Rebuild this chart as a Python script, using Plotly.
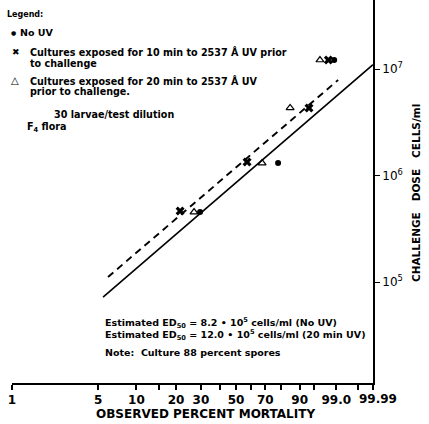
import numpy as np
import plotly.graph_objects as go

# ---------------- data ----------------
no_uv_pct = [29.6, 78.4, 98.8]
no_uv_dose = [4.54e5, 1.31e6, 1.215e7]

uv10_pct = [21.4, 57.4, 93.6, 98.1]
uv10_dose = [4.64e5, 1.34e6, 4.31e6, 1.215e7]

uv20_pct = [26.9, 67.8, 85.4, 96.6]
uv20_dose = [4.54e5, 1.31e6, 4.31e6, 1.215e7]

fit_no_uv_pct = [5.46, 99.99]
fit_no_uv_dose = [7.23e4, 1.097e7]

fit_uv20_pct = [5.98, 99.15]
fit_uv20_dose = [1.115e5, 7.89e6]

tick_pct = [1, 5, 10, 15, 20, 30, 40, 50, 60, 70, 80, 90, 95, 99, 99.9, 99.99]
tick_text = ["1", "5", "10", "", "20", "30", "", "50", "", "70", "", "90", "", "99.0", "", ""]
last_tick_label = "99.99"

dose_ticks = [1e5, 1e6, 1e7]
dose_tick_text = ["10<sup>5</sup>", "10<sup>6</sup>", "10<sup>7</sup>"]


def cloglog(p):
    p = np.asarray(p, dtype=float) / 100.0
    return np.log(-np.log(1.0 - p))


# ---------------- layout geometry ----------------
W, H = 429, 424
L, R, T, B = 12, 56, 0, 41
PW, PH = W - L - R, H - T - B

FONT = "DejaVu Sans"
NB = "\u00a0"

fig = go.Figure()

fig.add_trace(go.Scatter(x=cloglog(fit_no_uv_pct), y=fit_no_uv_dose, mode="lines",
                         line=dict(color="black", width=1.6), showlegend=False))
fig.add_trace(go.Scatter(x=cloglog(fit_uv20_pct), y=fit_uv20_dose, mode="lines",
                         line=dict(color="black", width=1.9, dash="7px,5px"), showlegend=False))
fig.add_trace(go.Scatter(x=cloglog(no_uv_pct), y=no_uv_dose, mode="markers",
                         marker=dict(symbol="circle", size=6, color="black"), showlegend=False))
fig.add_trace(go.Scatter(x=cloglog(uv10_pct), y=uv10_dose, mode="markers",
                         marker=dict(symbol="x", size=8, color="black"), showlegend=False))
fig.add_trace(go.Scatter(x=cloglog(uv20_pct), y=uv20_dose, mode="markers",
                         marker=dict(symbol="triangle-up-open", size=7, color="black",
                                     line=dict(width=1.2, color="black")), showlegend=False))

xmin, xmax = float(cloglog(1)), float(cloglog(99.99))
fig.update_xaxes(range=[xmin, xmax], tickvals=cloglog(tick_pct).tolist(), ticktext=tick_text,
                 showgrid=False, zeroline=False, showline=True, linecolor="black", linewidth=1.5,
                 ticks="outside", ticklen=5, tickwidth=1.5, tickcolor="black", automargin=False,
                 tickfont=dict(family=FONT, size=12, color="black", weight="bold"))
fig.update_yaxes(type="log", range=[4.052, 7.648], side="right", tickvals=dose_ticks,
                 ticktext=dose_tick_text, showgrid=False, zeroline=False, showline=True,
                 linecolor="black", linewidth=1.8, ticks="outside", ticklen=5, tickwidth=1.2,
                 tickcolor="black", automargin=False,
                 tickfont=dict(family=FONT, size=12, color="black"))


def ann(text, x, y, size=10, xanchor="left", angle=0, bold=True):
    fig.add_annotation(text=text, xref="paper", yref="paper",
                       x=(x - L) / PW, y=(T + PH - y) / PH, xanchor=xanchor, yanchor="middle",
                       showarrow=False, textangle=angle,
                       font=dict(family=FONT, size=size, color="black",
                                 weight="bold" if bold else "normal"))


ann("Legend:", 5, 15, 8)
ann("●", 9, 33, 6)
ann("No UV", 18, 33, 9.5)
ann("✖", 10, 52, 9)
ann("Cultures exposed for 10 min to 2537 Å UV prior", 28, 52, 9.6)
ann("to challenge", 28, 63, 9.6)
ann("△", 9, 81, 10)
ann("Cultures exposed for 20 min to 2537 Å UV", 28, 81, 9.6)
ann("prior to challenge.", 28, 92, 9.6)
ann("30 larvae/test dilution", 52, 115, 9.6)
ann("F<sub>4</sub> flora", 25, 127, 9.6)

ann("Estimated ED<sub>50</sub> = 8.2 • 10<sup>5</sup> cells/ml (No UV)", 103, 323, 9.5)
ann("Estimated ED<sub>50</sub> = 12.0 • 10<sup>5</sup> cells/ml (20 min UV)", 103, 335, 9.5)
ann("Note:  Culture 88 percent spores", 103, 352, 9.5)

ann(last_tick_label, 378, 399, 12, xanchor="center")
ann("OBSERVED PERCENT MORTALITY", 205, 414, 12, xanchor="center")
ann("CHALLENGE" + NB * 3 + "DOSE" + NB * 3 + "CELLS/ml", 416, 193, 10.5,
    xanchor="center", angle=-90)

fig.update_layout(width=W, height=H, margin=dict(l=L, r=R, t=T, b=B),
                  paper_bgcolor="white", plot_bgcolor="white", showlegend=False)

fig.write_html("out.html", config={"displayModeBar": False},
               post_script="document.body.style.margin='0px';")
